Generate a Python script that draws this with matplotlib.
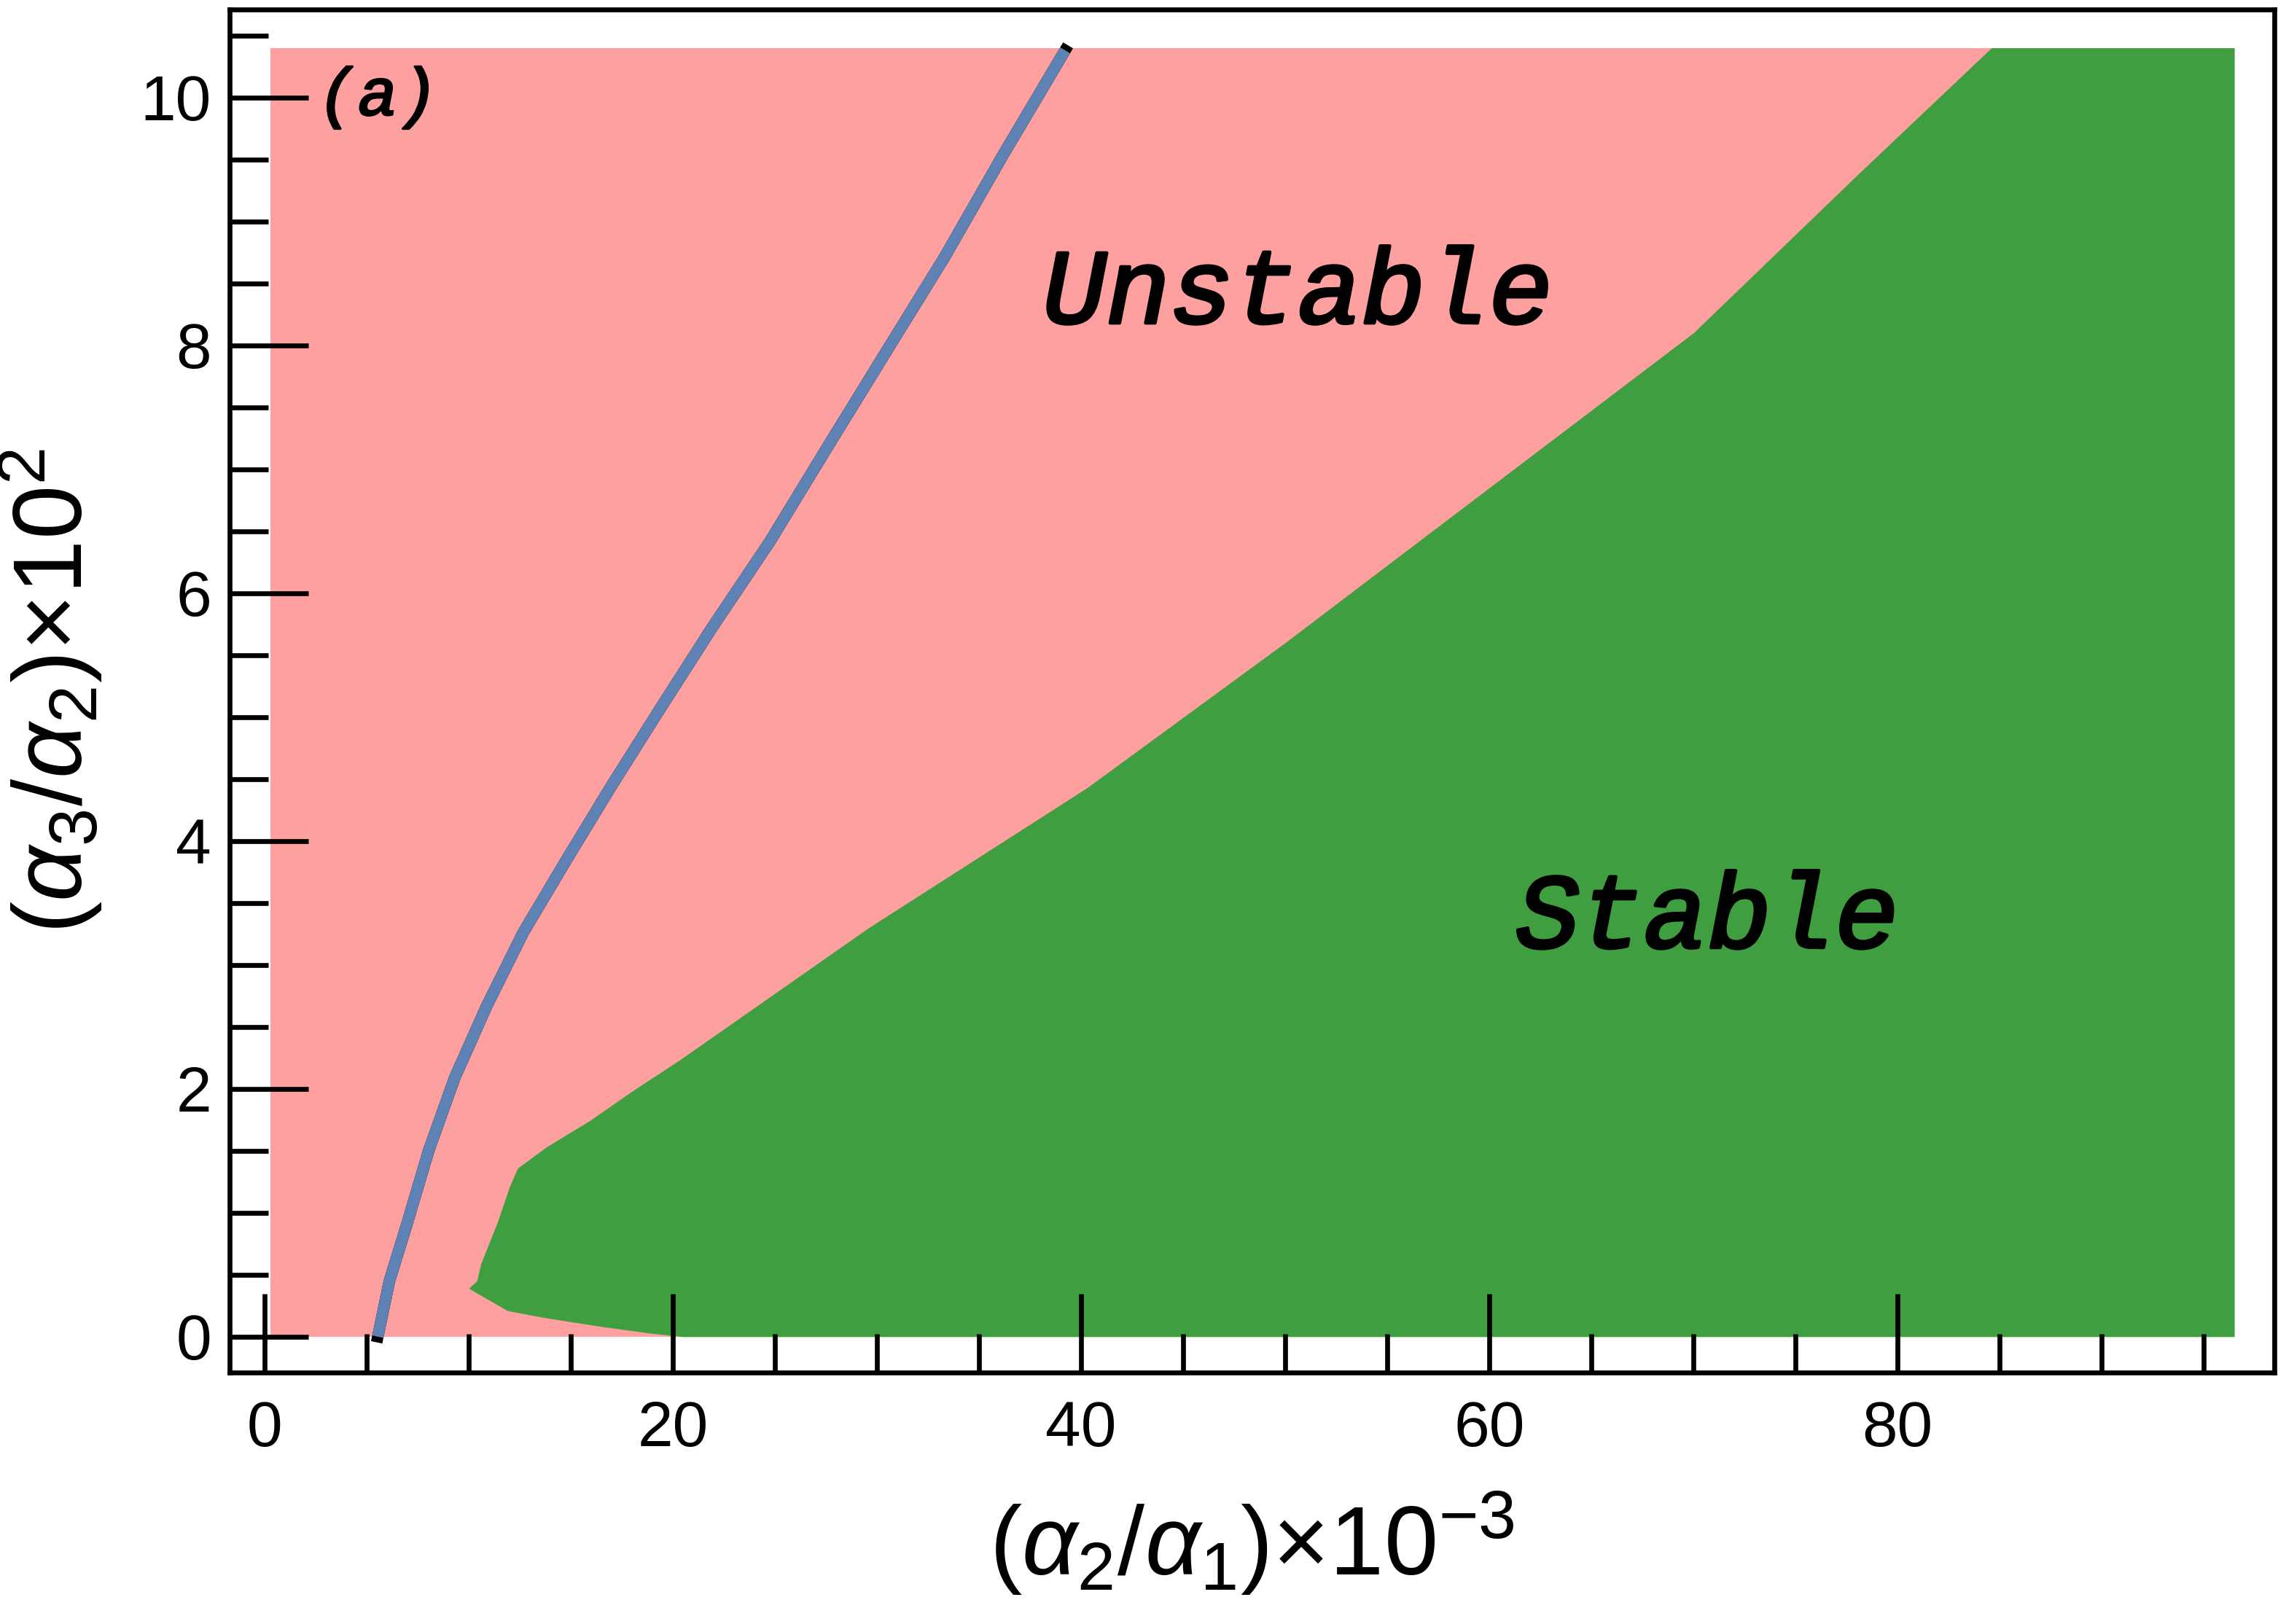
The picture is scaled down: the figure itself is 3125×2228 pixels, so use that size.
import matplotlib
matplotlib.use('Agg')
import matplotlib.pyplot as plt
import matplotlib.patheffects as pe
import numpy as np

plt.rcParams['font.family'] = ['Liberation Sans', 'DejaVu Sans']
plt.rcParams['mathtext.fontset'] = 'custom'
plt.rcParams['mathtext.rm'] = 'Liberation Sans'
plt.rcParams['mathtext.it'] = 'Liberation Sans:italic'

# computed region (alpha2/alpha1 x1e-3, alpha3/alpha2 x1e2)
x_min, x_max = 0.3, 96.5
y_min, y_max = 0.0, 10.4

# stability boundary: green (stable) to the right of it
bound_y = [0.0, 0.03, 0.08, 0.12, 0.16, 0.21, 0.39, 0.45, 0.59, 0.92, 1.21, 1.36,
           1.53, 1.74, 1.98, 2.24, 3.30, 4.43, 5.60, 6.85, 8.10, 9.37, 10.4]
bound_x = [20.5, 18.8, 16.6, 15.0, 13.5, 11.9, 10.0, 10.4, 10.6, 11.4, 12.0, 12.4,
           13.8, 15.9, 18.0, 20.4, 29.6, 40.3, 50.0, 60.0, 70.0, 78.0, 84.6]

# blue curve
curve_x = [5.55, 6.12, 6.98, 8.04, 9.32, 10.89, 12.67, 14.80, 16.94, 19.43,
           21.92, 24.77, 27.62, 30.46, 33.31, 36.16, 39.22]
curve_y = [0.0, 0.45, 0.91, 1.50, 2.09, 2.67, 3.26, 3.85, 4.43, 5.08,
           5.72, 6.42, 7.19, 7.95, 8.71, 9.53, 10.38]

pink = '#ffa0a0'
green = '#3f9e3f'
blue = '#5f82b4'

fig = plt.figure(figsize=(3125 / 300, 2228 / 300), dpi=300)
ax = fig.add_axes([0.1008, 0.1548, 0.8976, 0.8394])

ax.fill_between([x_min, x_max], y_min, y_max, color=pink, lw=0, zorder=1)
ax.fill_betweenx(bound_y, bound_x, x_max, color=green, lw=0, zorder=1.1)

# black line under the blue one gives the dark end caps
ax.plot(curve_x, curve_y, color='black', lw=3.8, solid_capstyle='projecting',
        solid_joinstyle='round', zorder=2)
ax.plot(curve_x, curve_y, color=blue, lw=3.8, solid_capstyle='butt',
        solid_joinstyle='round', zorder=2.1)

mono = dict(family='Liberation Mono', style='italic')
thick = [pe.withStroke(linewidth=1.1, foreground='black')]
ax.text(38.1, 8.18, 'Unstable', fontsize=35, path_effects=thick, **mono)
ax.text(61.3, 3.14, 'Stable', fontsize=35, path_effects=thick, **mono)
ax.text(2.6, 10.0, '(a)', fontsize=22, va='center',
        path_effects=[pe.withStroke(linewidth=0.7, foreground='black')], **mono)

ax.set_xlim(-1.71, 98.46)
ax.set_ylim(-0.29, 10.71)
ax.set_xticks([0, 20, 40, 60, 80])
ax.set_xticks(np.arange(0, 100, 5), minor=True)
ax.set_yticks([0, 2, 4, 6, 8, 10])
ax.set_yticks(np.arange(0, 11, 0.5), minor=True)

ax.tick_params(which='both', direction='in', width=1.6, top=False, right=False,
               labelsize=21)
ax.tick_params(which='major', length=26)
ax.tick_params(which='minor', length=12.7)
ax.tick_params(axis='y', pad=6)
ax.tick_params(axis='x', pad=9)
for s in ax.spines.values():
    s.set_linewidth(1.6)
    s.set_zorder(5)

ax.set_xlabel(r'$(\alpha_2/\alpha_1)$×10$^{-3}$', fontsize=32, labelpad=10)
ax.set_ylabel(r'$(\alpha_3/\alpha_2)$×10$^{2}$', fontsize=32, labelpad=12)

fig.savefig('out.png', dpi=300)
